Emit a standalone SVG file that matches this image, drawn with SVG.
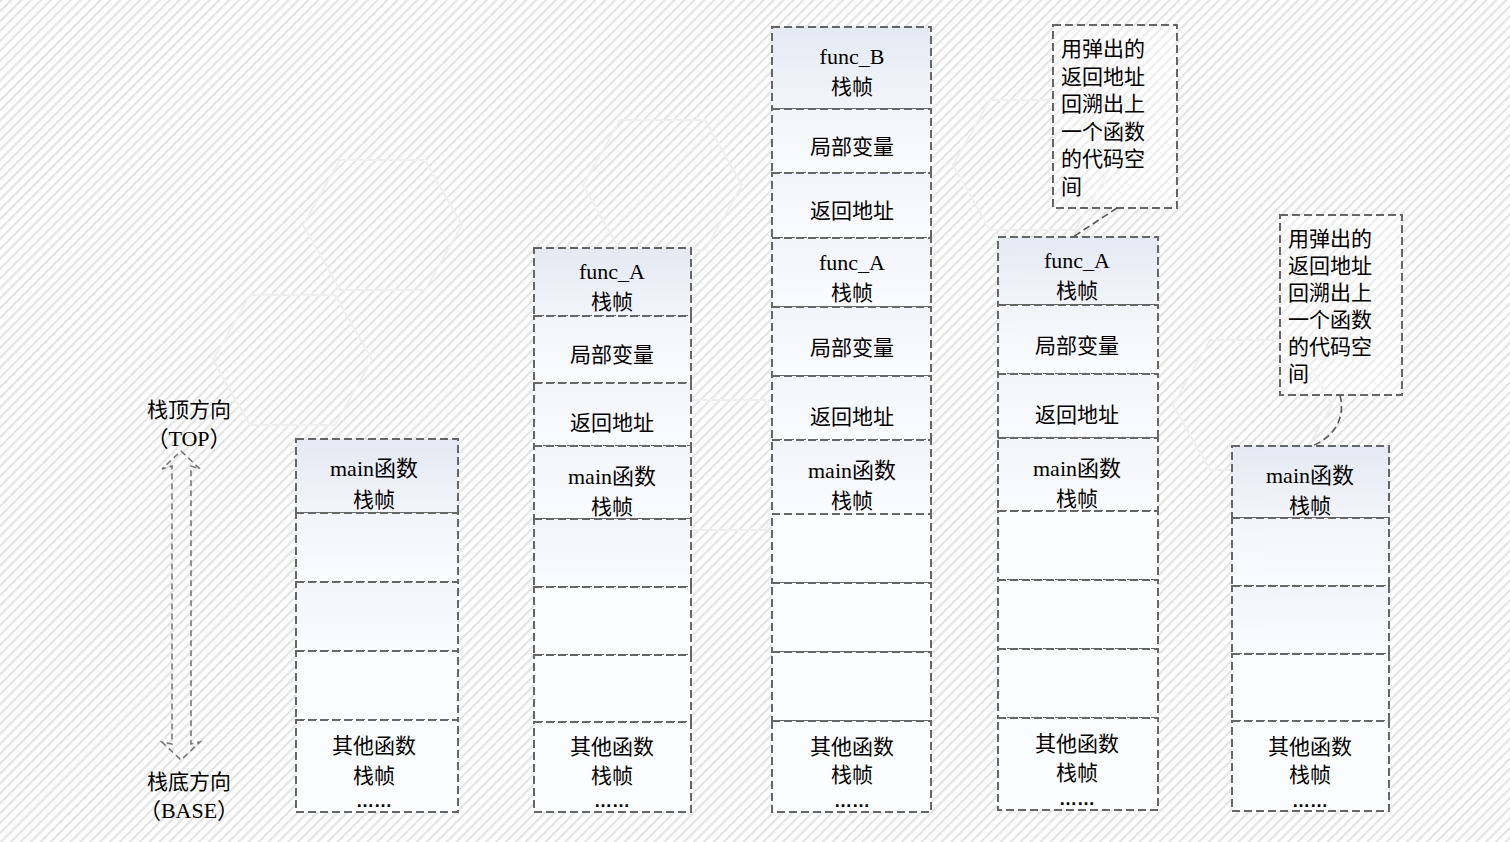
<svg xmlns="http://www.w3.org/2000/svg" width="1510" height="842" viewBox="0 0 1510 842">
<defs>
<pattern id="stripes" width="7" height="7" patternUnits="userSpaceOnUse" patternTransform="rotate(-45)">
<rect width="7" height="7" fill="#ffffff"/>
<rect width="7" height="2.2" fill="#e4e4e4"/>
</pattern>
<linearGradient id="topfill" x1="0" y1="0" x2="0" y2="1">
<stop offset="0" stop-color="#e4e9f3"/>
<stop offset="1" stop-color="#f3f5fa"/>
</linearGradient>
<linearGradient id="segfill" x1="0" y1="0" x2="0" y2="1">
<stop offset="0" stop-color="#f2f4fa"/>
<stop offset="1" stop-color="#fbfcfe"/>
</linearGradient>
<style>
.seg{fill:url(#segfill);stroke:#666;stroke-width:2;stroke-dasharray:8 4;}
.top{fill:url(#topfill);stroke:#666;stroke-width:2;stroke-dasharray:8 4;}
.plain{fill:#fbfcfd;stroke:#666;stroke-width:2;stroke-dasharray:8 4;}
.note{fill:#ffffff;fill-opacity:0.35;stroke:#666;stroke-width:2;stroke-dasharray:8 4;}
.conn{fill:none;stroke:#555;stroke-width:1.6;stroke-dasharray:7 4;}
.hex{fill:none;stroke:#efefef;stroke-width:2;}
text{font-family:"Liberation Serif","Noto Sans CJK SC",serif;font-size:22px;fill:#000;text-anchor:middle;dominant-baseline:central;}
.cn{font-family:"Noto Sans CJK SC","Liberation Sans",sans-serif;font-size:21px;}
.nt{font-family:"Noto Sans CJK SC","Liberation Sans",sans-serif;font-size:21px;text-anchor:start;}
.dots{font-family:"Liberation Sans","Noto Sans CJK SC",sans-serif;font-size:18px;font-weight:bold;}
</style>
</defs>
<rect width="1510" height="842" fill="url(#stripes)"/>
<g id="bg-hex">
<path class="hex" d="M340,160 L425,160 L462,225 L425,290 L340,290 L303,225 Z"/>
<path class="hex" d="M250,295 L335,295 L372,360 L335,425 L250,425 L213,360 Z"/>
<path class="hex" d="M620,120 L705,120 L742,185 L705,250 L620,250 L583,185 Z"/>
<path class="hex" d="M990,100 L1075,100 L1112,165 L1075,230 L990,230 L953,165 Z"/>
<path class="hex" d="M1210,340 L1295,340 L1332,405 L1295,470 L1210,470 L1173,405 Z"/>
<path class="hex" d="M680,400 L765,400 L802,465 L765,530 L680,530 L643,465 Z"/>
</g>

<g id="direction">
<path d="M181,451 L200,469 L191,466 L191,744 L200,742 L181,760 L162,742 L172,744 L172,466 L162,469 Z" fill="none" stroke="#777" stroke-width="1.6" stroke-dasharray="6 4"/>
<text class="cn" x="189" y="408">栈顶方向</text>
<text x="189" y="438">（TOP）</text>
<text class="cn" x="189" y="780">栈底方向</text>
<text x="189" y="810">（BASE）</text>
</g>

<g id="stack1">
<rect class="top" x="296" y="439" width="162" height="74"/>
<rect class="seg" x="296" y="513" width="162" height="69"/>
<rect class="seg" x="296" y="582" width="162" height="69"/>
<rect class="plain" x="296" y="651" width="162" height="69"/>
<rect class="plain" x="296" y="720" width="162" height="92"/>
<text x="374" y="468">main函数</text>
<text class="cn" x="374" y="498">栈帧</text>
<text class="cn" x="374" y="744">其他函数</text>
<text class="cn" x="374" y="774">栈帧</text>
<text class="dots" x="374" y="801">……</text>
</g>

<g id="stack2">
<rect class="top" x="534" y="248" width="157" height="68"/>
<rect class="seg" x="534" y="316" width="157" height="67"/>
<rect class="seg" x="534" y="383" width="157" height="63"/>
<rect class="seg" x="534" y="446" width="157" height="73"/>
<rect class="seg" x="534" y="519" width="157" height="68"/>
<rect class="plain" x="534" y="587" width="157" height="68"/>
<rect class="plain" x="534" y="655" width="157" height="67"/>
<rect class="plain" x="534" y="722" width="157" height="90"/>
<text x="612" y="271">func_A</text>
<text class="cn" x="612" y="300">栈帧</text>
<text class="cn" x="612" y="353">局部变量</text>
<text class="cn" x="612" y="421">返回地址</text>
<text x="612" y="476">main函数</text>
<text class="cn" x="612" y="505">栈帧</text>
<text class="cn" x="612" y="745">其他函数</text>
<text class="cn" x="612" y="774">栈帧</text>
<text class="dots" x="612" y="801">……</text>
</g>

<g id="stack3">
<rect class="top" x="772" y="27" width="159" height="82"/>
<rect class="seg" x="772" y="109" width="159" height="64"/>
<rect class="seg" x="772" y="173" width="159" height="65"/>
<rect class="seg" x="772" y="238" width="159" height="69"/>
<rect class="seg" x="772" y="307" width="159" height="69"/>
<rect class="seg" x="772" y="376" width="159" height="64"/>
<rect class="seg" x="772" y="440" width="159" height="74"/>
<rect class="plain" x="772" y="514" width="159" height="69"/>
<rect class="plain" x="772" y="583" width="159" height="69"/>
<rect class="plain" x="772" y="652" width="159" height="69"/>
<rect class="plain" x="772" y="721" width="159" height="91"/>
<text x="852" y="56">func_B</text>
<text class="cn" x="852" y="85">栈帧</text>
<text class="cn" x="852" y="145">局部变量</text>
<text class="cn" x="852" y="209">返回地址</text>
<text x="852" y="262">func_A</text>
<text class="cn" x="852" y="291">栈帧</text>
<text class="cn" x="852" y="346">局部变量</text>
<text class="cn" x="852" y="415">返回地址</text>
<text x="852" y="470">main函数</text>
<text class="cn" x="852" y="499">栈帧</text>
<text class="cn" x="852" y="745">其他函数</text>
<text class="cn" x="852" y="773">栈帧</text>
<text class="dots" x="852" y="801">……</text>
</g>

<g id="stack4">
<rect class="top" x="998" y="237" width="160" height="68"/>
<rect class="seg" x="998" y="305" width="160" height="69"/>
<rect class="seg" x="998" y="374" width="160" height="64"/>
<rect class="seg" x="998" y="438" width="160" height="73"/>
<rect class="plain" x="998" y="511" width="160" height="69"/>
<rect class="plain" x="998" y="580" width="160" height="69"/>
<rect class="plain" x="998" y="649" width="160" height="69"/>
<rect class="plain" x="998" y="718" width="160" height="92"/>
<text x="1077" y="260">func_A</text>
<text class="cn" x="1077" y="289">栈帧</text>
<text class="cn" x="1077" y="344">局部变量</text>
<text class="cn" x="1077" y="413">返回地址</text>
<text x="1077" y="468">main函数</text>
<text class="cn" x="1077" y="497">栈帧</text>
<text class="cn" x="1077" y="742">其他函数</text>
<text class="cn" x="1077" y="771">栈帧</text>
<text class="dots" x="1077" y="799">……</text>
</g>

<g id="stack5">
<rect class="top" x="1232" y="446" width="157" height="72"/>
<rect class="seg" x="1232" y="518" width="157" height="68"/>
<rect class="seg" x="1232" y="586" width="157" height="68"/>
<rect class="plain" x="1232" y="654" width="157" height="67"/>
<rect class="plain" x="1232" y="721" width="157" height="90"/>
<text x="1310" y="475">main函数</text>
<text class="cn" x="1310" y="504">栈帧</text>
<text class="cn" x="1310" y="745">其他函数</text>
<text class="cn" x="1310" y="773">栈帧</text>
<text class="dots" x="1310" y="801">……</text>
</g>

<g id="note1">
<rect class="note" x="1053" y="25" width="124" height="183"/>
<text class="nt" x="1061" y="47">用弹出的</text>
<text class="nt" x="1061" y="74.5">返回地址</text>
<text class="nt" x="1061" y="102">回溯出上</text>
<text class="nt" x="1061" y="129.5">一个函数</text>
<text class="nt" x="1061" y="157">的代码空</text>
<text class="nt" x="1061" y="184.5">间</text>
</g>

<g id="note2">
<rect class="note" x="1280" y="215" width="122" height="180"/>
<text class="nt" x="1288" y="237">用弹出的</text>
<text class="nt" x="1288" y="264">返回地址</text>
<text class="nt" x="1288" y="291">回溯出上</text>
<text class="nt" x="1288" y="318">一个函数</text>
<text class="nt" x="1288" y="345">的代码空</text>
<text class="nt" x="1288" y="372">间</text>
</g>

<g id="connectors">
<path class="conn" d="M1117,208 L1073,237"/>
<path class="conn" d="M1340,395 C1345,415 1338,435 1312,446"/>
</g>
</svg>
